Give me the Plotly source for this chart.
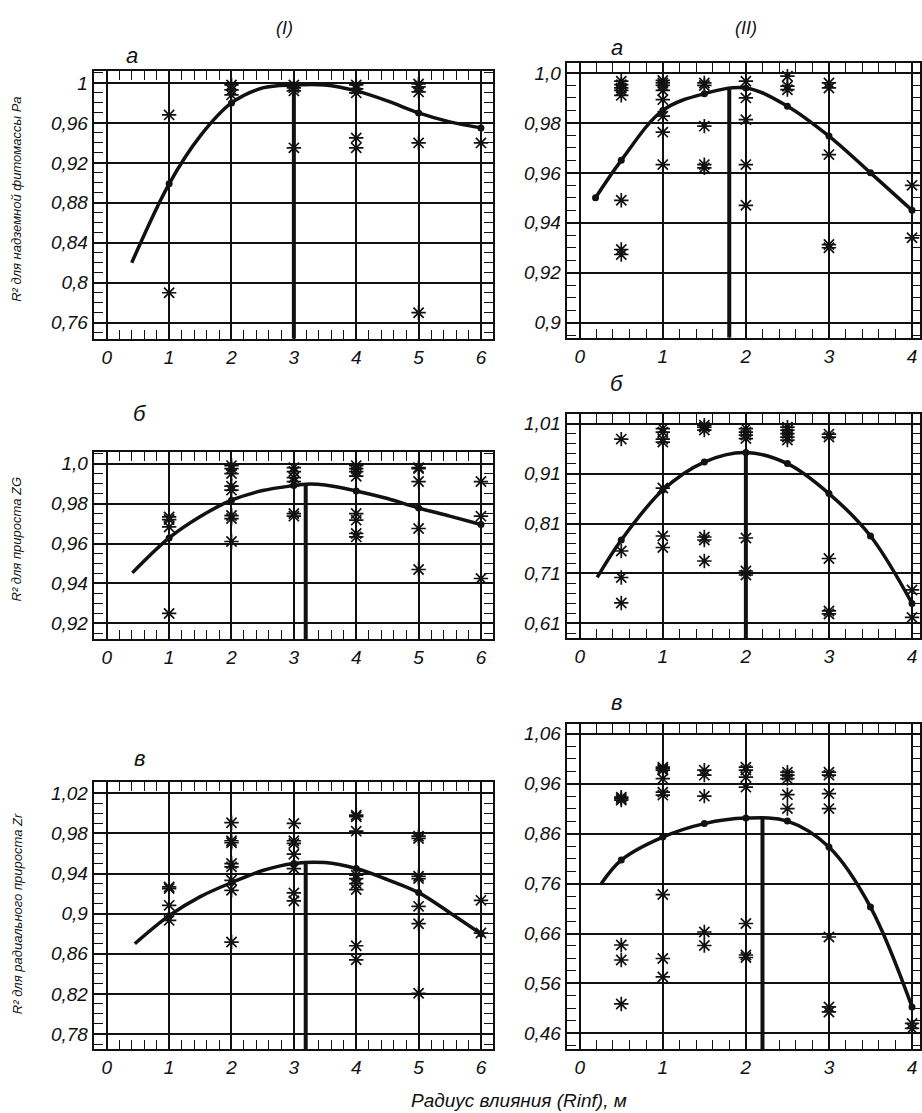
import plotly.graph_objects as go

W, H = 922, 1113

# ------------------------------------------------------------------ data
# Column (I), panel a  — R² for above-ground phytomass Pa
ia_curve_x = [0.4, 1, 1.5, 2, 2.5, 3, 3.5, 4, 4.5, 5, 5.5, 6]
ia_curve_y = [0.820, 0.899, 0.947, 0.980, 0.995, 0.998, 0.998, 0.992, 0.982, 0.970, 0.961, 0.955]
ia_stars = {1: [0.968, 0.790],
            2: [0.998, 0.993, 0.988],
            3: [0.998, 0.995, 0.992, 0.935],
            4: [0.998, 0.994, 0.990, 0.945, 0.935],
            5: [0.999, 0.996, 0.991, 0.940, 0.770],
            6: [0.940]}
ia_opt_x, ia_opt_y = 3.0, 0.998
ia_yticks = [0.76, 0.80, 0.84, 0.88, 0.92, 0.96, 1.0]
ia_ytext = ["0,76", "0,8", "0,84", "0,88", "0,92", "0,96", "1"]

# Column (I), panel б — R² for increment ZG
ib_curve_x = [0.41, 1, 1.5, 2, 2.5, 3, 3.2, 3.5, 4, 4.5, 5, 5.5, 6]
ib_curve_y = [0.9453, 0.9628, 0.9735, 0.9817, 0.9865, 0.989, 0.9897, 0.9893, 0.9863, 0.9825, 0.9778, 0.9737, 0.9695]
ib_stars = {1: [0.9733, 0.972, 0.9683, 0.925],
            2: [0.999, 0.9975, 0.995, 0.9887, 0.9867, 0.974, 0.9725, 0.961],
            3: [0.998, 0.996, 0.993, 0.991, 0.975, 0.9737],
            4: [0.999, 0.9975, 0.996, 0.9937, 0.975, 0.9717, 0.965, 0.9633],
            5: [0.998, 0.9975, 0.991, 0.9675, 0.947],
            6: [0.991, 0.9737, 0.9425]}
ib_opt_x, ib_opt_y = 3.19, 0.9897
ib_yticks = [0.92, 0.94, 0.96, 0.98, 1.0]
ib_ytext = ["0,92", "0,94", "0,96", "0,98", "1,0"]

# Column (I), panel в — R² for radial increment Zr
ic_curve_x = [0.45, 1, 1.5, 2, 2.5, 3, 3.5, 4, 4.5, 5, 5.5, 6]
ic_curve_y = [0.870, 0.898, 0.917, 0.931, 0.943, 0.950, 0.951, 0.945, 0.934, 0.921, 0.901, 0.880]
ic_stars = {1: [0.9267, 0.925, 0.9083, 0.8933],
            2: [0.9907, 0.9727, 0.9707, 0.95, 0.9467, 0.9333, 0.9233, 0.8717],
            3: [0.99, 0.9727, 0.97, 0.9593, 0.945, 0.9207, 0.9127],
            4: [0.9983, 0.9967, 0.9823, 0.9383, 0.935, 0.93, 0.924, 0.868, 0.854],
            5: [0.9773, 0.975, 0.9373, 0.935, 0.9073, 0.89, 0.8206],
            6: [0.9133, 0.8807]}
ic_opt_x, ic_opt_y = 3.19, 0.951
ic_yticks = [0.78, 0.82, 0.86, 0.90, 0.94, 0.98, 1.02]
ic_ytext = ["0,78", "0,82", "0,86", "0,9", "0,94", "0,98", "1,02"]

# Column (II), panel a
iia_curve_x = [0.19, 0.5, 1, 1.5, 2, 2.5, 3, 3.5, 4]
iia_curve_y = [0.950, 0.965, 0.985, 0.9917, 0.994, 0.9867, 0.9747, 0.960, 0.945]
iia_stars = {0.5: [0.9967, 0.9953, 0.994, 0.993, 0.991, 0.949, 0.9293, 0.9273],
             1: [0.997, 0.996, 0.995, 0.993, 0.9893, 0.9827, 0.9763, 0.9633],
             1.5: [0.996, 0.995, 0.9787, 0.9633, 0.962],
             2: [0.9967, 0.99, 0.9813, 0.9633, 0.947],
             2.5: [0.9987, 0.9947, 0.9933],
             3: [0.996, 0.994, 0.9673, 0.9313, 0.930],
             4: [0.955, 0.934]}
iia_opt_x, iia_opt_y = 1.8, 0.9945
iia_yticks = [0.90, 0.92, 0.94, 0.96, 0.98, 1.0]
iia_ytext = ["0,9", "0,92", "0,94", "0,96", "0,98", "1,0"]

# Column (II), panel б
iib_curve_x = [0.21, 0.5, 1, 1.5, 2, 2.5, 3, 3.5, 4]
iib_curve_y = [0.702, 0.777, 0.877, 0.933, 0.952, 0.930, 0.870, 0.785, 0.650]
iib_stars = {0.5: [0.979, 0.755, 0.702, 0.651],
             1: [1.0, 0.993, 0.979, 0.973, 0.881, 0.785, 0.762],
             1.5: [1.007, 1.003, 0.997, 0.783, 0.777, 0.735],
             2: [1.0, 0.993, 0.987, 0.98, 0.781, 0.715, 0.707],
             2.5: [1.003, 0.997, 0.99, 0.983, 0.977],
             3: [0.989, 0.983, 0.74, 0.635, 0.629],
             4: [0.677, 0.622]}
iib_opt_x, iib_opt_y = 2.0, 0.952
iib_yticks = [0.61, 0.71, 0.81, 0.91, 1.01]
iib_ytext = ["0,61", "0,71", "0,81", "0,91", "1,01"]

# Column (II), panel в
iic_curve_x = [0.26, 0.5, 1, 1.5, 2, 2.5, 3, 3.5, 4]
iic_curve_y = [0.760, 0.807, 0.853, 0.880, 0.891, 0.885, 0.833, 0.713, 0.513]
iic_stars = {0.5: [0.933, 0.93, 0.927, 0.637, 0.607, 0.519],
             1: [0.993, 0.99, 0.987, 0.97, 0.943, 0.937, 0.738, 0.61, 0.573],
             1.5: [0.987, 0.977, 0.935, 0.663, 0.636],
             2: [0.993, 0.987, 0.973, 0.953, 0.68, 0.617, 0.612],
             2.5: [0.983, 0.977, 0.97, 0.938, 0.91],
             3: [0.983, 0.977, 0.94, 0.91, 0.653, 0.513, 0.503],
             4: [0.48, 0.47]}
iic_opt_x, iic_opt_y = 2.2, 0.893
iic_yticks = [0.46, 0.56, 0.66, 0.76, 0.86, 0.96, 1.06]
iic_ytext = ["0,46", "0,56", "0,66", "0,76", "0,86", "0,96", "1,06"]

left_xticks = [0, 1, 2, 3, 4, 5, 6]
right_xticks = [0, 1, 2, 3, 4]

col_titles = ["(I)", "(II)"]
panel_letters = ["а", "б", "в"]
y_titles = ["R² для надземной фитомассы Pa", "R² для прироста ZG", "R² для радиального прироста Zr"]
x_title = "Радиус влияния (Rinf), м"

# ------------------------------------------------------------------ layout / style
INK = "#111111"
FONT = "Liberation Sans"


def ydom(top_px, bot_px):
    return [1 - bot_px / H, 1 - top_px / H]


panels = [
    dict(cx=ia_curve_x, cy=ia_curve_y, st=ia_stars, ox=ia_opt_x, oy=ia_opt_y, yt=ia_yticks, ytx=ia_ytext,
         xt=left_xticks, xpx=(94, 494), xr=[-0.208, 6.192], ypx=(70, 338), yr=[0.744, 1.012], ym=0.01, right=False),
    dict(cx=ib_curve_x, cy=ib_curve_y, st=ib_stars, ox=ib_opt_x, oy=ib_opt_y, yt=ib_yticks, ytx=ib_ytext,
         xt=left_xticks, xpx=(94, 494), xr=[-0.208, 6.192], ypx=(451, 639), yr=[0.912, 1.006], ym=0.005, right=False),
    dict(cx=ic_curve_x, cy=ic_curve_y, st=ic_stars, ox=ic_opt_x, oy=ic_opt_y, yt=ic_yticks, ytx=ic_ytext,
         xt=left_xticks, xpx=(94, 494), xr=[-0.208, 6.192], ypx=(782, 1049), yr=[0.765, 1.031], ym=0.01, right=False),
    dict(cx=iia_curve_x, cy=iia_curve_y, st=iia_stars, ox=iia_opt_x, oy=iia_opt_y, yt=iia_yticks, ytx=iia_ytext,
         xt=right_xticks, xpx=(568, 922), xr=[-0.156, 4.096], ypx=(62, 337), yr=[0.894, 1.004], ym=0.005, right=True),
    dict(cx=iib_curve_x, cy=iib_curve_y, st=iib_stars, ox=iib_opt_x, oy=iib_opt_y, yt=iib_yticks, ytx=iib_ytext,
         xt=right_xticks, xpx=(568, 922), xr=[-0.156, 4.096], ypx=(413, 638), yr=[0.58, 1.03], ym=0.02, right=True),
    dict(cx=iic_curve_x, cy=iic_curve_y, st=iic_stars, ox=iic_opt_x, oy=iic_opt_y, yt=iic_yticks, ytx=iic_ytext,
         xt=right_xticks, xpx=(568, 922), xr=[-0.156, 4.096], ypx=(724, 1049), yr=[0.4287, 1.0787], ym=0.025, right=True),
]

fig = go.Figure()
layout = dict(width=W, height=H, margin=dict(l=0, r=0, t=0, b=0),
              paper_bgcolor="white", plot_bgcolor="white", showlegend=False)

tickfont = dict(family=FONT, size=19, style="italic", color=INK)

for i, p in enumerate(panels):
    n = "" if i == 0 else str(i + 1)
    xa, ya = "x" + n, "y" + n
    # stars
    sx, sy = [], []
    for xv, vals in p["st"].items():
        for v in vals:
            sx.append(xv)
            sy.append(v)
    fig.add_trace(go.Scatter(x=sx, y=sy, mode="markers", xaxis=xa, yaxis=ya, cliponaxis=False,
                             marker=dict(symbol="asterisk-open", size=12, color=INK,
                                         line=dict(width=1.7, color=INK)),
                             hoverinfo="skip"))
    # fitted curve
    fig.add_trace(go.Scatter(x=p["cx"], y=p["cy"], mode="lines", xaxis=xa, yaxis=ya,
                             line=dict(color=INK, width=3.5, shape="spline", smoothing=1.0),
                             hoverinfo="skip"))
    # dots on the curve
    if p["right"]:
        dx = [x for k, x in enumerate(p["cx"]) if abs(x * 2 - round(x * 2)) < 1e-9 or (i == 3 and k == 0)]
    else:
        dx = [x for x in p["cx"] if abs(x - round(x)) < 1e-9]
    dy = [p["cy"][p["cx"].index(x)] for x in dx]
    fig.add_trace(go.Scatter(x=dx, y=dy, mode="markers", xaxis=xa, yaxis=ya, cliponaxis=False,
                             marker=dict(symbol="circle", size=7, color=INK), hoverinfo="skip"))
    # optimum line
    fig.add_trace(go.Scatter(x=[p["ox"], p["ox"]], y=[p["oy"], p["yr"][0]], mode="lines",
                             xaxis=xa, yaxis=ya, line=dict(color=INK, width=4), hoverinfo="skip"))

    common = dict(ticks="inside", ticklen=9, tickwidth=1.4, tickcolor=INK,
                  showline=True, linewidth=2.2, linecolor=INK, mirror="allticks",
                  showgrid=True, gridcolor=INK, gridwidth=1.6, zeroline=False,
                  tickfont=tickfont, fixedrange=True)
    layout["xaxis" + n] = dict(
        domain=[p["xpx"][0] / W, p["xpx"][1] / W], range=p["xr"], anchor=ya,
        tickmode="array", tickvals=p["xt"], ticktext=[str(v) for v in p["xt"]],
        minor=dict(tickmode="linear", tick0=0, dtick=0.2, ticks="inside", ticklen=9,
                   tickwidth=1.4, tickcolor=INK, showgrid=False),
        **common)
    layout["yaxis" + n] = dict(
        domain=ydom(*p["ypx"]), range=p["yr"], anchor=xa,
        tickmode="array", tickvals=p["yt"], ticktext=p["ytx"],
        minor=dict(tickmode="linear", tick0=p["yt"][0], dtick=p["ym"], ticks="inside", ticklen=9,
                   tickwidth=1.4, tickcolor=INK, showgrid=False),
        **common)

ann = []


def add_text(txt, xpx, ypx, size, angle=0):
    ann.append(dict(text=txt, x=xpx / W, y=1 - ypx / H, xref="paper", yref="paper",
                    showarrow=False, textangle=angle, xanchor="center", yanchor="middle",
                    font=dict(family=FONT, size=size, style="italic", color=INK)))


add_text(col_titles[0], 285, 27, 18)
add_text(col_titles[1], 748, 27, 18)
for letter, (lx, ly), (rx, ry) in zip(panel_letters, [(132, 55), (140, 413), (140, 758)],
                                      [(618, 47), (618, 383), (618, 702)]):
    add_text(letter, lx, ly, 22)
    add_text(letter, rx, ry, 22)
for t, yy in zip(y_titles, [198, 538, 913]):
    add_text(t, 17, yy, 13, angle=-90)
add_text(x_title, 520, 1100, 19)

layout["annotations"] = ann
fig.update_layout(**layout)
fig.write_html("out.html", config={"displayModeBar": False},
               post_script="document.body.style.margin='0';document.body.style.overflow='hidden';")
